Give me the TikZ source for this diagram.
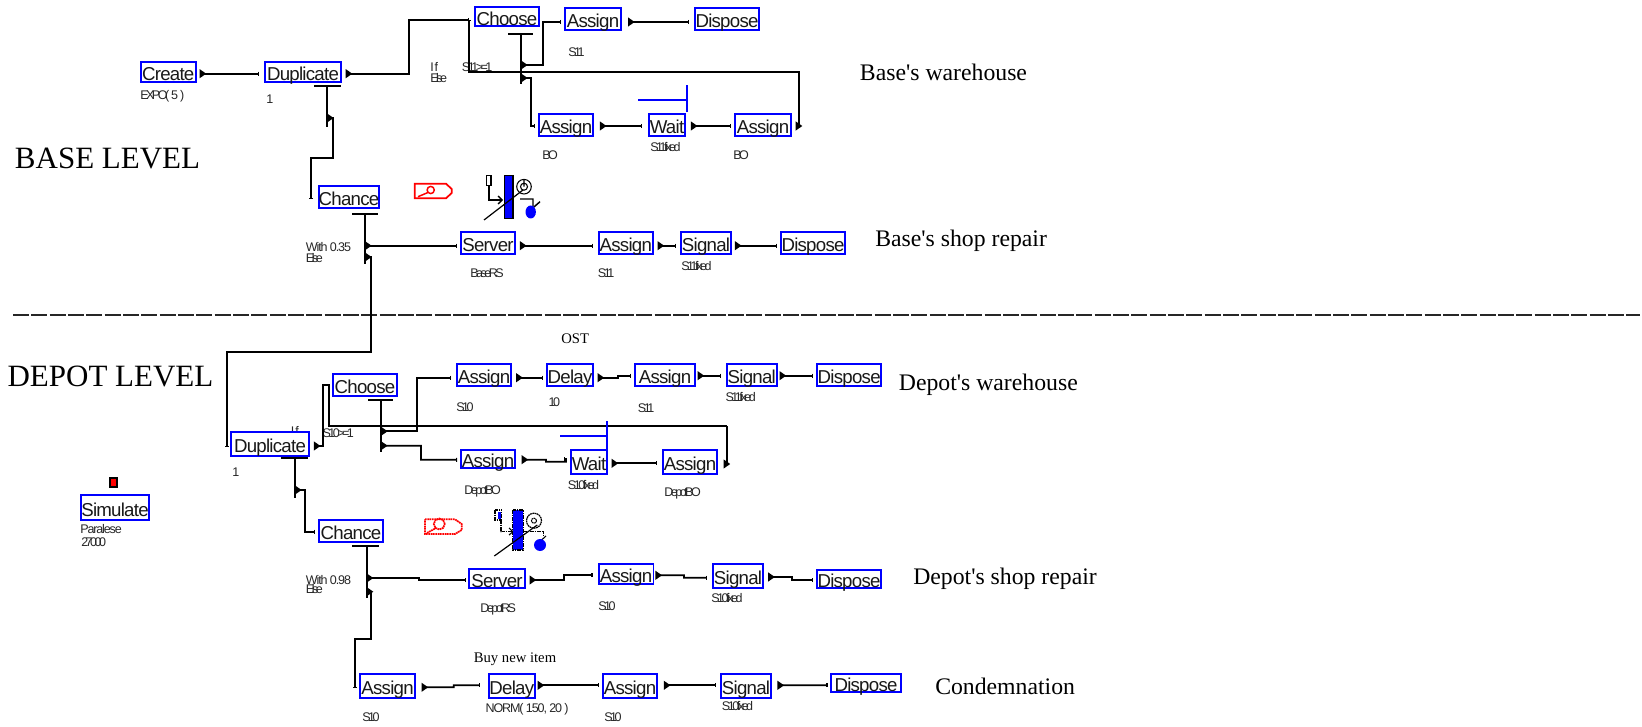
\documentclass[tikz,border=0pt]{standalone}
\usepackage{fontspec}
\setmainfont{Liberation Serif}
\newfontfamily\areafont{Liberation Serif}
\newfontfamily\boxfont[LetterSpace=-4]{Liberation Sans}
\newfontfamily\tagfont[LetterSpace=-20]{Liberation Sans}
\newfontfamily\valfont[LetterSpace=-9]{Liberation Sans}
\usetikzlibrary{arrows.meta}
\tikzset{
  module/.style 2 args={draw=blue, line width=1.35pt, fill=white, inner sep=0pt, text height=12.8pt, text depth=0pt, minimum width=#1*0.75pt, minimum height=#2*0.75pt, font=\boxfont\fontsize{14}{16}\selectfont, text=black!90},
  tag/.style={anchor=west, inner sep=0pt, font=\tagfont\fontsize{9.4}{11}\selectfont, text=black!85},
  val/.style={tag, font=\valfont\fontsize{9.4}{11}\selectfont},
  level/.style={anchor=west, inner sep=0pt, font=\fontsize{23.25}{28}\selectfont},
  area/.style={anchor=west, inner sep=0pt, font=\areafont\fontsize{17.8}{22}\selectfont},
  note/.style={anchor=west, inner sep=0pt, font=\fontsize{11}{13}\selectfont},
  wire/.style={line width=1.3pt, black},
  flow/.style={wire, {Triangle[reversed,length=5pt,width=6.5pt]}-{Bar[width=3pt,line width=.8pt]}},
  hold/.style={line width=1.3pt, blue},
  rough/.style={dash pattern=on 1.3pt off .45pt}
}
\begin{document}
\begin{tikzpicture}[x=0.75pt,y=-0.75pt]
\useasboundingbox (0,0) rectangle (1642,727);
\node[level] (baseLvl) at (14.7,158) {BASE LEVEL};
\node[level] (depotLvl) at (7.3,376) {DEPOT LEVEL};
\node[area] (baseWh) at (859.7,72) {Base's warehouse};
\node[area] (baseShop) at (875,241) {Base's shop repair};
\node[area] (depotWh) at (898.6,385) {Depot's warehouse};
\node[area] (depotShop) at (913,579) {Depot's shop repair};
\node[area] (condem) at (935,686) {Condemnation};
\node[note] (ost) at (561,338.7) {OST};
\node[note] (buyNew) at (473.6,659.3) {Buy new item};
\node[tag] (tCreate) at (140,96) {EXPO(\hspace{1.5pt}5\hspace{1.5pt})};
\node[tag] (tDupB) at (266,99.3) {1};
\node[tag] (tIfB) at (430,66.7) {I f};
\node[tag] (tElseB) at (430,77.7) {Else};
\node[tag] (tCondB) at (461.7,67) {S11>=1};
\node[tag] (tS11a) at (568,51.7) {S11};
\node[tag] (tBOa) at (542,155) {BO};
\node[tag] (tWaitB) at (650,147) {S11fixed};
\node[tag] (tBOb) at (733,155) {BO};
\node[val] (tWithB) at (305.7,247) {With 0.35};
\node[tag] (tElseC) at (305.7,257.7) {Else};
\node[tag] (tBaseRS) at (470,273) {BaseRS};
\node[tag] (tS11b) at (597.7,273) {S11};
\node[tag] (tSigB) at (681,265.7) {S11fixed};
\node[tag] (tIfD) at (290.7,431) {I f};
\node[tag] (tCondD) at (322.3,433.3) {S10>=1};
\node[tag] (tDupD) at (232,471.7) {1};
\node[tag] (tS10a) at (456,407.3) {S10};
\node[tag] (tDelay) at (548.3,401.7) {10};
\node[tag] (tS11c) at (637.7,407.7) {S11};
\node[tag] (tSigD) at (725.3,397.3) {S11fixed};
\node[tag] (tWaitD) at (567.7,485.3) {S10fixed};
\node[tag] (tBOc) at (464,491.3) {DepotBO};
\node[tag] (tBOd) at (664,493.3) {DepotBO};
\node[val] (tPar) at (80,529.3) {Paralese};
\node[tag] (tPar2) at (81,541.7) {27000};
\node[val] (tWithD) at (305.7,580) {With 0.98};
\node[tag] (tElseD) at (305.7,589.3) {Else};
\node[tag] (tDepotRS) at (480,609) {DepotRS};
\node[tag] (tS10b) at (598,605.7) {S10};
\node[tag] (tSigE) at (711,597.7) {S10fixed};
\node[tag] (tS10c) at (362,717) {S10};
\node[val] (tNorm) at (485.4,709.7) {NORM( 150, 20 )};
\node[tag] (tS10d) at (604,717) {S10};
\node[tag] (tSigF) at (721.7,705.7) {S10fixed};
\node[module={55}{20.5}] (createB) at (168.2,72) {Create};
\node[module={76.6}{20}] (dupB) at (303,72) {Duplicate};
\node[module={64.6}{19}] (chooseB) at (507,16.8) {Choose};
\node[module={56.3}{22.3}] (asgBa) at (593,18.8) {Assign};
\node[module={64.6}{22.3}] (dispBa) at (727,18.8) {Dispose};
\node[module={54.6}{22.3}] (asgBb) at (566,124.8) {Assign};
\node[module={36.6}{22.3}] (waitB) at (667,124.8) {Wait};
\node[module={56.6}{22.3}] (asgBc) at (763,124.8) {Assign};
\node[module={60.6}{22.6}] (chanceB) at (349,197) {Chance};
\node[module={54.6}{22.6}] (serverB) at (488,243) {Server};
\node[module={54.3}{22.6}] (asgBd) at (625.8,243) {Assign};
\node[module={50.6}{22.6}] (sigB) at (706,243) {Signal};
\node[module={64.6}{22.6}] (dispBb) at (813,243) {Dispose};
\node[module={78.6}{24.3}] (dupD) at (270,443.8) {Duplicate};
\node[module={64.6}{22}] (chooseD) at (365,385) {Choose};
\node[module={54.6}{22}] (asgDa) at (484,375) {Assign};
\node[module={46.6}{22}] (delayD) at (570,375) {Delay};
\node[module={60.6}{22}] (asgDb) at (665,375) {Assign};
\node[module={50.3}{22}] (sigD) at (751.8,375) {Signal};
\node[module={64.3}{22}] (dispDa) at (849.2,375) {Dispose};
\node[module={54.6}{18.3}] (asgDc) at (488,458.8) {Assign};
\node[module={36.6}{24.3}] (waitD) at (589,461.8) {Wait};
\node[module={54}{24.3}] (asgDd) at (690,461.8) {Assign};
\node[module={68.6}{25}] (simB) at (115,507.8) {Simulate};
\node[module={64.6}{22}] (chanceD) at (351,531) {Chance};
\node[module={56.6}{19}] (serverD) at (497,578.8) {Server};
\node[module={54.8}{20}] (asgDe) at (626,574) {Assign};
\node[module={50.2}{24}] (sigDb) at (738,576) {Signal};
\node[module={64}{18}] (dispDb) at (849,579) {Dispose};
\node[module={54.7}{24.3}] (asgDf) at (387.6,686.2) {Assign};
\node[module={46.3}{24.3}] (delayDb) at (511.8,686.2) {Delay};
\node[module={54.7}{24.3}] (asgDg) at (630,686.2) {Assign};
\node[module={50.7}{24.3}] (sigDc) at (746,686.2) {Signal};
\node[module={70}{18.3}] (dispDc) at (866,683.2) {Dispose};
\coordinate (sepL) at (13,315);
\coordinate (sepR) at (1640,315);
\draw[line width=1.5pt, black!85, dash pattern=on 11.9pt off 1.85pt] (sepL) -- (sepR);
\coordinate (jB) at (469,20);
\coordinate (bendB) at (409,20);
\coordinate (retA) at (799,71.7);
\coordinate (retB) at (469,71.7);
\coordinate (cStemT) at (521,33.7);
\coordinate (cStemB) at (521,84);
\coordinate (cOutA) at (521,65);
\coordinate (cBendA) at (543,22);
\coordinate (cOutB) at (521,78);
\coordinate (cBendB) at (531,126);
\coordinate (dStemT) at (327,85.7);
\coordinate (dStemB) at (327,126.7);
\coordinate (dOut) at (327,118);
\coordinate (dBendA) at (332.7,157.7);
\coordinate (dBendB) at (311,157.7);
\coordinate (chIn) at (311,199);
\coordinate (hStemT) at (365,213.7);
\coordinate (hStemB) at (365,264);
\coordinate (hOutA) at (365,245.7);
\coordinate (hOutB) at (365,257);
\coordinate (hBendA) at (370.7,352);
\coordinate (hBendB) at (226.7,352);
\coordinate (dupIn) at (226.7,446.7);
\draw[flow] ([shift={(3,1.7)}]createB.east) -- ([shift={(-4.7,1.7)}]dupB.west);
\draw[flow] ([shift={(3.5,1.7)}]dupB.east) -| (bendB) -- (jB);
\draw[flow] ([shift={(3.5,1.2)}]asgBc.east) -| (retA) -- (retB) -- (jB);
\draw[wire] (cStemT) -- (cStemB);
\draw[wire] ([shift={(-13,0)}]cStemT) -- ([shift={(12,0)}]cStemT);
\draw[flow] (cOutA) -| (cBendA) -- ([shift={(-3,3.2)}]asgBa.west);
\draw[flow] (cOutB) -| (cBendB) -- ([shift={(-2.7,1.2)}]asgBb.west);
\draw[flow] ([shift={(6,3.2)}]asgBa.east) -- ([shift={(-4.7,3.2)}]dispBa.west);
\draw[flow] ([shift={(5.7,1.2)}]asgBb.east) -- ([shift={(-5.7,1.2)}]waitB.west);
\draw[flow] ([shift={(4.7,1.2)}]waitB.east) -- ([shift={(-2.7,1.2)}]asgBc.west);
\draw[hold] (638,99.7) -- (687,99.7) (687,85.3) -- (687,112.3);
\draw[wire] (dStemT) -- (dStemB);
\draw[wire] ([shift={(-13,0)}]dStemT) -- ([shift={(14,0)}]dStemT);
\draw[flow] (dOut) -| (dBendA) -- (dBendB) -- (chIn);
\draw[wire] (hStemT) -- (hStemB);
\draw[wire] ([shift={(-13,0)}]hStemT) -- ([shift={(13,0)}]hStemT);
\draw[flow] (hOutA) -- ([shift={(-2.7,2.7)}]serverB.west);
\draw[flow] ([shift={(3.7,2.7)}]serverB.east) -- ([shift={(-4.7,2.7)}]asgBd.west);
\draw[flow] ([shift={(3.7,2.7)}]asgBd.east) -- ([shift={(-4,2.7)}]sigB.west);
\draw[flow] ([shift={(2.7,2.7)}]sigB.east) -- ([shift={(-2.7,2.7)}]dispBb.west);
\draw[flow] (hOutB) -| (hBendA) -- (hBendB) -- (dupIn);
\coordinate (oStemT) at (381,399.7);
\coordinate (oStemB) at (381,452);
\coordinate (oOutA) at (381,431.3);
\coordinate (oBendA) at (417,377.7);
\coordinate (oOutB) at (381,445.7);
\coordinate (oMidA) at (421,445.7);
\coordinate (oMidB) at (421,459.7);
\coordinate (uBendA) at (323,385.3);
\coordinate (uBendB) at (329,385.3);
\coordinate (uBendC) at (329,425.7);
\coordinate (uBendD) at (727,425.7);
\coordinate (pStemT) at (295,457.7);
\coordinate (pStemB) at (295,497.7);
\coordinate (pOut) at (295,490);
\coordinate (pBend) at (305,531.7);
\coordinate (qStemT) at (366.7,545.7);
\coordinate (qStemB) at (366.7,597.7);
\coordinate (qOutA) at (366.7,578);
\coordinate (qStepA) at (419,578);
\coordinate (qStepB) at (419,580);
\coordinate (qOutB) at (366.7,591.7);
\coordinate (qBendA) at (371,639.3);
\coordinate (qBendB) at (354.8,639.3);
\coordinate (asgIn) at (354.8,688);
\draw[wire, {Triangle[reversed,length=5pt,width=6.5pt]}-] ([shift={(3.7,2.2)}]dupD.east) -| (uBendA) -- (uBendB) -- (uBendC) -- (uBendD);
\draw[wire, {Triangle[reversed,length=5pt,width=6.5pt]}-] ([shift={(5.7,2.2)}]asgDd.east) -| (uBendD);
\draw[wire] (oStemT) -- (oStemB);
\draw[wire] ([shift={(-13,0)}]oStemT) -- ([shift={(12.3,0)}]oStemT);
\draw[flow] (oOutA) -| (oBendA) -- ([shift={(-4.7,2.7)}]asgDa.west);
\draw[flow] (oOutB) -- (oMidA) -- (oMidB) -- ([shift={(-2.7,1)}]asgDc.west);
\draw[flow] ([shift={(4,2.7)}]asgDa.east) -- ([shift={(-2.7,2.7)}]delayD.west);
\draw[flow] ([shift={(3.4,2.7)}]delayD.east) -- ++(20.3,0) -- ++(0,-2) -- ([shift={(-2.4,.7)}]asgDb.west);
\draw[flow] ([shift={(1.4,.7)}]asgDb.east) -- ([shift={(-4.4,.7)}]sigD.west);
\draw[flow] ([shift={(1.7,.7)}]sigD.east) -- ([shift={(-3,.7)}]dispDa.west);
\draw[flow] ([shift={(5.4,.9)}]asgDc.east) -- ++(24.3,0) -- ++(0,2) -- ++(20,0) -- ++(0,-2.7) -- ([shift={(-5.7,-2.8)}]waitD.west);
\draw[flow] ([shift={(3.4,1.5)}]waitD.east) -- ([shift={(-4.7,1.5)}]asgDd.west);
\draw[hold] (560.3,436) -- (607,436) (607,421.3) -- (607,449.7);
\draw[wire] (pStemT) -- (pStemB);
\draw[wire] ([shift={(-14.3,0)}]pStemT) -- ([shift={(12.7,0)}]pStemT);
\draw[flow] (pOut) -| (pBend) -- ([shift={(-3,.7)}]chanceD.west);
\draw[wire] (qStemT) -- (qStemB);
\draw[wire] ([shift={(-14.4,0)}]qStemT) -- ([shift={(12.6,0)}]qStemT);
\draw[flow] (qOutA) -- (qStepA) -- (qStepB) -- ([shift={(-1.7,1.2)}]serverD.west);
\draw[flow] (qOutB) -| (qBendA) -- (qBendB) -- (asgIn);
\draw[flow] ([shift={(3.4,1.2)}]serverD.east) -- ++(34.3,0) -- ++(0,-4.7) -- ([shift={(-5.2,1.3)}]asgDe.west);
\draw[flow] ([shift={(1.1,1.3)}]asgDe.east) -- ++(28.5,0) -- ++(0,2.4) -- ([shift={(-5,1.7)}]sigDb.west);
\draw[flow] ([shift={(4.2,1)}]sigDb.east) -- ++(24,0) -- ++(0,3) -- ([shift={(-3.4,1)}]dispDb.west);
\draw[flow] ([shift={(5.7,1.1)}]asgDf.east) -- ++(32.1,0) -- ++(0,-2) -- ([shift={(-8.1,-.9)}]delayDb.west);
\draw[flow] ([shift={(1.8,-.9)}]delayDb.east) -- ([shift={(-2.7,-.9)}]asgDg.west);
\draw[flow] ([shift={(5.6,-.9)}]asgDg.east) -- ([shift={(-3.3,-.9)}]sigDc.west);
\draw[flow] ([shift={(5.2,-.9)}]sigDc.east) -- ([shift={(-2.6,2.1)}]dispDc.west);
\draw[red, line width=1.3pt] (414.7,183.7) -- (446,183.7) -- (451.7,189) -- (451.7,193) -- (446,198.3) -- (414.7,198.3) -- cycle;
\draw[red, line width=1.1pt] (430.7,190) circle (3.6*0.75pt) (418,196.7) -- (428,192.5);
\draw[black, line width=1.1pt] (486.7,175.7) rectangle (491,185.7);
\draw[black, line width=1pt, -{Straight Barb[length=3pt]}] (489,185.7) -- (489,200) -- (503,200);
\draw[black, line width=1.1pt, fill=blue] (504.7,175.7) rectangle (513,218.3);
\draw[black, line width=.8pt] (524,186.7) circle (7.3*0.75pt) (524,186.7) circle (3.5*0.75pt) (524,186.7) -- (524,179.4);
\draw[black, line width=.9pt] (484,220) -- (523,190);
\draw[black, line width=1.1pt] (520,199) -- (533,199) -- (533,206) (540,201.7) -- (527,213);
\fill[blue] (530.7,212) ellipse (5.2*0.75pt and 6.5*0.75pt);
\draw[red, line width=1.3pt, rough] (425,519.3) -- (455,519.3) -- (461.7,524) -- (461.7,530) -- (455,534) -- (425,534) -- cycle;
\draw[red, line width=1.3pt, rough] (439.3,524) circle (5.5*0.75pt) (427,533) -- (436,528);
\fill[blue] (497.7,511.7) rectangle (500.7,519.3);
\draw[black, line width=1.1pt, rough] (495,510) rectangle (501.7,520);
\draw[black, line width=1pt, rough] (501,520) -- (501,531.7) -- (513,531.7);
\draw[line width=.8pt] (509,528) -- (513,531.7) -- (509,535);
\fill[blue] (512.7,510) rectangle (523.3,550);
\draw[black, line width=1.1pt, rough] (512.7,510) rectangle (523.3,550);
\draw[black, line width=.9pt, rough] (534,520.7) circle (7.5*0.75pt);
\draw[black, line width=.8pt, rough] (534,520.7) circle (2.5*0.75pt);
\draw[black, line width=.9pt] (494.3,556) -- (537.3,525);
\draw[black, line width=1pt, rough] (523,531.7) -- (543.3,531.7) -- (543.3,537);
\draw[black, line width=.8pt] (546,536) -- (536,545);
\fill[blue] (540,545) circle (6*0.75pt);
\draw[black, line width=1.6pt, fill=red] (109.7,478.3) rectangle (116.7,487.3);
\end{tikzpicture}
\end{document}
